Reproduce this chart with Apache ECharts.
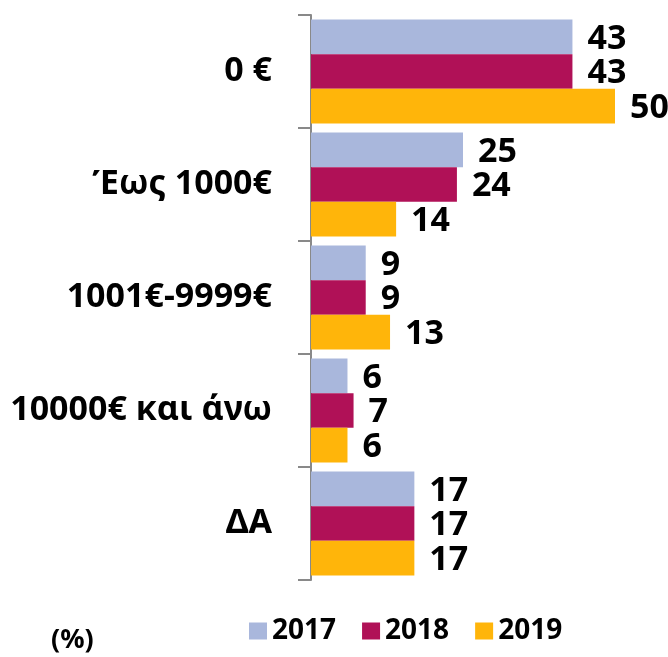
<!DOCTYPE html>
<html>
<head>
<meta charset="utf-8">
<script src="https://cdn.jsdelivr.net/npm/echarts@6/dist/echarts.min.js"></script>
<style>
  html, body { margin: 0; padding: 0; background: #fff; }
  #chart { width: 668px; height: 657px; }
</style>
</head>
<body>
<div id="chart"></div>
<script>
// Income brackets, top to bottom
const categories = ['0 €', 'Έως 1000€', '1001€-9999€', '10000€ και άνω', 'ΔΑ'];
const seriesNames = ['2017', '2018', '2019'];
const values2017 = [43, 25, 9, 6, 17];
const values2018 = [43, 24, 9, 7, 17];
const values2019 = [50, 14, 13, 6, 17];
const colors = ['#A9B7DC', '#B01157', '#FFB50A'];

const FONT = '"Noto Sans", "Open Sans", sans-serif';

const chart = echarts.init(document.getElementById('chart'), null, { renderer: 'canvas' });

function barSeries(name, data, color) {
  return {
    name: name,
    type: 'bar',
    data: data,
    barGap: '0%',
    barCategoryGap: '8%',
    itemStyle: { color: color },
    label: {
      show: true,
      position: 'right',
      distance: 15,
      offset: [0, 2],
      color: '#000',
      fontFamily: FONT,
      fontWeight: 'bold',
      fontSize: 34
    }
  };
}

chart.setOption({
  animation: false,
  backgroundColor: '#fff',
  grid: { left: 311, top: 15, right: 53, bottom: 77, containLabel: false },
  xAxis: {
    type: 'value',
    min: 0,
    max: 50,
    show: false
  },
  yAxis: {
    type: 'category',
    inverse: true,
    data: categories,
    axisLine: { show: true, lineStyle: { color: '#898989', width: 2 } },
    axisTick: { show: true, length: 13, lineStyle: { color: '#898989', width: 2 } },
    axisLabel: {
      margin: 39,
      color: '#000',
      fontFamily: FONT,
      fontWeight: 'bold',
      fontSize: 34
    },
    splitLine: { show: false }
  },
  legend: {
    data: seriesNames,
    left: 244,
    top: 612,
    itemWidth: 18,
    itemHeight: 17,
    itemGap: 26,
    icon: 'rect',
    textStyle: {
      color: '#000',
      fontFamily: FONT,
      fontWeight: 'bold',
      fontSize: 28,
      padding: [0, 0, 0, 0]
    }
  },
  graphic: [{
    type: 'text',
    left: 51,
    top: 627,
    style: {
      text: '(%)',
      fill: '#000',
      font: 'bold 27px ' + FONT
    }
  }],
  series: [
    barSeries(seriesNames[0], values2017, colors[0]),
    barSeries(seriesNames[1], values2018, colors[1]),
    barSeries(seriesNames[2], values2019, colors[2])
  ]
});
</script>
</body>
</html>
